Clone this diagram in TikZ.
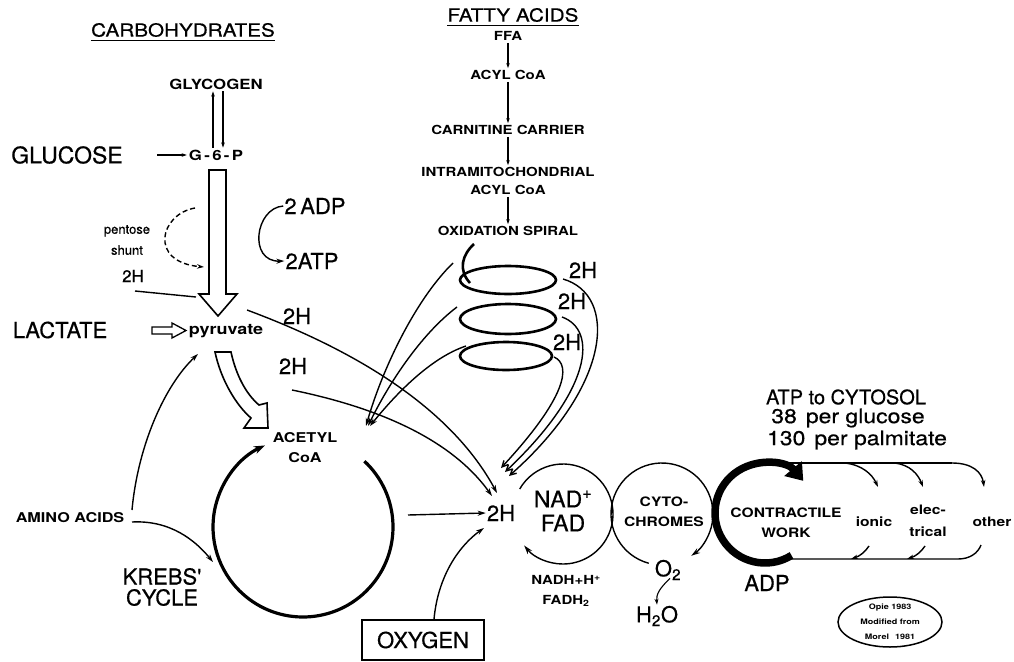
\documentclass[tikz,border=0pt]{standalone}
\usepackage{fontspec}
\setmainfont{TeX Gyre Heros}
\newfontfamily\hvw[FakeStretch=1.2]{TeX Gyre Heros}
\newfontfamily\hvm[FakeBold=0.5]{TeX Gyre Heros}
\newfontfamily\hvmw[FakeBold=0.5,FakeStretch=1.15]{TeX Gyre Heros}
\usetikzlibrary{arrows.meta}
\begin{document}
\begin{tikzpicture}[x=1pt,y=1pt,
  big/.style={font=\hvm\fontsize{22}{21}\selectfont, inner sep=1pt, align=center},
  bigw/.style={font=\hvmw\fontsize{20}{22}\selectfont, inner sep=0pt},
  hd/.style={font=\hvmw\fontsize{18}{19}\selectfont, inner sep=0pt},
  sm/.style={font=\hvw\bfseries\fontsize{14}{18}\selectfont, inner sep=2pt, align=center},
  tiny/.style={font=\hvw\bfseries\fontsize{7.5}{15}\selectfont, inner sep=0pt, align=center},
  ln/.style={line width=1.4pt},
  arr/.style={ln, -{Stealth[length=8pt,width=5pt]}},
  sarr/.style={line width=1.1pt, -{Stealth[length=5pt,width=3.5pt]}},
  oarr/.style={ln, -{Straight Barb[length=6pt,width=6pt]}},
  hollow/.style={line width=1.6pt, fill=white, line join=miter}
]
\useasboundingbox (0,0) rectangle (1014,-661);

% ---------- headings ----------
\node[hd] (cb) at (183,-30) {CARBOHYDRATES};
\draw[line width=1pt] ([yshift=-4pt]cb.base west) -- ([yshift=-4pt]cb.base east);
\node[hd] (fa) at (513,-15) {FATTY ACIDS};
\draw[line width=1pt] ([yshift=-4pt]fa.base west) -- ([yshift=-4pt]fa.base east);

% ---------- fatty acid column ----------
\node[sm, font=\hvw\bfseries\fontsize{12.5}{18}\selectfont] (ffa) at (508,-36) {FFA};
\node[sm, font=\hvw\bfseries\fontsize{12.5}{18}\selectfont] (ac1) at (508,-75) {ACYL CoA};
\node[sm, font=\hvw\bfseries\fontsize{12.5}{18}\selectfont] (carn) at (508,-130) {CARNITINE CARRIER};
\node[sm, font=\hvw\bfseries\fontsize{12.5}{18}\selectfont] (intra) at (508,-181) {INTRAMITOCHONDRIAL\\ACYL CoA};
\node[sm, font=\hvw\bfseries\fontsize{12.5}{18}\selectfont] (ox) at (508,-231) {OXIDATION SPIRAL};
\draw[sarr] (ffa) -- (ac1);
\draw[sarr] (ac1) -- (carn);
\draw[sarr] (carn) -- (intra);
\draw[sarr] (intra) -- (ox);

% ---------- carbohydrate column ----------
\node[sm] (gly) at (216,-84) {GLYCOGEN};
\node[sm] (g6p) at (216,-155) {G\,-\,6\,-\,P};
\node[big, font=\hvm\fontsize{23}{21}\selectfont] (glu) at (67,-155) {GLUCOSE};
\coordinate (gluA) at (157,-155);
\draw[sarr] (gluA) -- (g6p.west);
\draw[sarr] ([xshift=-3pt]g6p.north) -- ([xshift=-3pt]gly.south);
\draw[sarr] ([xshift=7pt]gly.south) -- ([xshift=7pt]g6p.north);

% big hollow arrow G-6-P -> pyruvate
\draw[hollow] (209,-170) -- (226,-170) -- (226,-294) -- (237,-294) -- (218,-316) -- (199,-294) -- (209,-294) -- cycle;

% pentose shunt
\node[font=\hvm\fontsize{13}{21}\selectfont, inner sep=0pt, align=center] (pent) at (127,-240) {pentose\\shunt};
\coordinate (psA) at (195,-208);
\coordinate (psB) at (204,-267);
\draw[ln, dashed, dash pattern=on 5pt off 3pt, -{Stealth[length=7pt,width=4.5pt]}] (psA) .. controls (160,-214) and (148,-262) .. (psB);

% 2H into glycolysis
\node[big, font=\hvm\fontsize{17}{17}\selectfont] (h2a) at (133,-276) {2H};
\coordinate (h2aE) at (196,-297);
\draw[ln] (135,-291) -- (h2aE);

% 2 ADP / 2 ATP
\node[big] (adp2) at (315,-206) {2\,ADP};
\node[big] (atp2) at (312,-261) {2ATP};
\draw[arr] (adp2.west) .. controls (255,-208) and (248,-262) .. (atp2.west);

% lactate / pyruvate
\node[big] (lac) at (60,-330) {LACTATE};
\node[sm, font=\hvw\bfseries\fontsize{15}{16}\selectfont] (pyr) at (226,-331) {pyruvate};
\draw[hollow, line width=1.3pt] (152,-327) -- (172,-327) -- (172,-323) -- (186,-330.5) -- (172,-338) -- (172,-334) -- (152,-334) -- cycle;

% 2H labels near pyruvate
\node[big] (h2b) at (297,-316) {2H};
\node[big] (h2c) at (293,-366) {2H};

% hollow curved arrow pyruvate -> acetyl CoA
\draw[hollow] (215,-352) -- (231,-352) .. controls (236,-375) and (246,-394) .. (259,-405) -- (267,-403) -- (268,-428) -- (244,-428) -- (251,-418) .. controls (236,-405) and (221,-380) .. cycle;

% acetyl CoA & Krebs
\node[sm, font=\hvw\bfseries\fontsize{13.5}{20}\selectfont] (acoa) at (305,-448) {ACETYL\\CoA};
\coordinate (kc) at (303,-527);
\draw[line width=3.2pt, -{Stealth[length=11pt,width=8pt]}] (kc) ++(47:90) arc[start angle=47, end angle=-245, radius=90];
\node[big] (krebs) at (162,-587) {KREBS'\\CYCLE};

% amino acids
\node[sm, font=\hvw\bfseries\fontsize{13.5}{14}\selectfont] (amino) at (70,-518) {AMINO ACIDS};
\draw[arr] (132,-510) .. controls (138,-445) and (165,-385) .. (198,-354);
\draw[arr] (132,-522) .. controls (170,-520) and (195,-540) .. (213,-562);

% central 2H
\node[big] (hc) at (501,-513) {2H};
\draw[arr] (408,-515) -- (hc.west);

% oxygen
\node[big, draw, line width=1.5pt, minimum width=122pt, minimum height=40pt] (oxy) at (423,-640) {OXYGEN};
\draw[arr] (oxy.north) ++(11,0) .. controls (438,-575) and (460,-545) .. (484,-528);

% long 2H lines into central 2H
\draw[arr] (247,-310) .. controls (360,-352) and (452,-410) .. (497,-493);
\draw[arr] (292,-390) .. controls (380,-408) and (452,-440) .. (492,-496);

% ---------- spiral ----------
\draw[line width=2.6pt] (474,-244) .. controls (462,-255) and (458,-270) .. (470,-283);
\draw[line width=2.6pt] (508,-280) ellipse [x radius=48, y radius=14];
\draw[line width=2.6pt] (508,-319) ellipse [x radius=48, y radius=15];
\draw[line width=2.6pt] (506,-356) ellipse [x radius=46, y radius=14];

% spiral -> acetyl CoA
\draw[arr] (453,-263) .. controls (415,-300) and (382,-370) .. (366,-426);
\draw[arr] (457,-307) .. controls (420,-335) and (388,-385) .. (368,-426);
\draw[arr] (466,-346) .. controls (430,-358) and (395,-395) .. (370,-426);

% spiral 2H -> central 2H
\node[big] (s1) at (583,-270) {2H};
\node[big] (s2) at (572,-301) {2H};
\node[big] (s3) at (567,-342) {2H};
\draw[oarr] (563,-279) .. controls (618,-295) and (612,-385) .. (509,-476);
\draw[oarr] (562,-317) .. controls (598,-330) and (592,-390) .. (505,-472);
\draw[oarr] (554,-357) .. controls (572,-365) and (566,-398) .. (501,-468);

% ---------- electron transport ----------
\coordinate (nc) at (563,-514);
\draw[ln, -{Stealth[length=9pt,width=5.5pt]}] (nc) ++(150:50) arc[start angle=150, end angle=-141, radius=50];
\node[big, font=\hvm\fontsize{23}{24}\selectfont] (nad) at (563,-511) {NAD\textsuperscript{+}\\FAD};
\node[sm, font=\hvw\bfseries\fontsize{12.5}{20}\selectfont] (nadh) at (566,-591) {NADH+H\textsuperscript{+}\\FADH\textsubscript{2}};

\coordinate (cc) at (662,-514);
\draw[ln, -{Stealth[length=9pt,width=5.5pt]}] (cc) ++(-105:51) arc[start angle=-105, end angle=-415, radius=51];
\node[sm, font=\hvw\bfseries\fontsize{13}{20}\selectfont] (cyto) at (664,-512) {CYTO-\\CHROMES};
\node[big] (o2) at (668,-570) {O\textsubscript{2}};
\node[big] (h2o) at (657,-616) {H\textsubscript{2}O};
\draw[line width=1.1pt, -{Stealth[length=6pt,width=4pt]}] (o2.south) ++(2,3) .. controls (660,-588) and (656,-594) .. (h2o.north);

% ---------- ATP to cytosol ----------
\node[big, font=\hvm\fontsize{20}{21}\selectfont] (atpc) at (846,-397) {ATP to CYTOSOL};
\node[bigw] (g38) at (848,-418) {38\hspace{9pt}per glucose};
\node[bigw] (p130) at (857,-440) {130\hspace{9pt}per palmitate};

\coordinate (wc) at (765,-513);
\draw[line width=7.5pt, -{Triangle[length=16pt,width=22pt]}] (wc) ++(-58:50) arc[start angle=-58, end angle=-320, radius=50];
\node[sm, font=\hvw\bfseries\fontsize{13}{20}\selectfont] (contr) at (786,-523) {CONTRACTILE\\WORK};
\node[big] (adp) at (767,-583) {ADP};

\node[sm, font=\hvw\bfseries\fontsize{13}{18}\selectfont] (ionic) at (874,-522) {ionic};
\node[sm, font=\hvw\bfseries\fontsize{13}{22}\selectfont] (elec) at (928,-521) {elec-\\trical};
\node[sm, font=\hvw\bfseries\fontsize{13}{18}\selectfont] (other) at (992,-522) {other};

\coordinate (tL) at (778,-463);
\coordinate (tR) at (952,-463);
\draw[ln] (tL) -- (tR);
\draw[arr, -{Stealth[length=7pt,width=4.5pt]}] (tR) .. controls (972,-463) and (982,-472) .. (984,-487);
\draw[arr, -{Stealth[length=7pt,width=4.5pt]}] (845,-463) .. controls (862,-465) and (872,-474) .. (878,-487);
\draw[arr, -{Stealth[length=7pt,width=4.5pt]}] (895,-463) .. controls (910,-465) and (918,-474) .. (923,-487);

\coordinate (bL) at (790,-559);
\coordinate (bR) at (958,-559);
\draw[ln] (bL) -- (bR) .. controls (970,-559) and (978,-553) .. (981,-545);
\draw[arr, -{Stealth[length=7pt,width=4.5pt]}] (869,-546) .. controls (865,-552) and (860,-556) .. (851,-559);
\draw[arr, -{Stealth[length=7pt,width=4.5pt]}] (925,-546) .. controls (921,-552) and (916,-556) .. (907,-559);

% credit ellipse
\draw[line width=1.5pt] (890,-622) ellipse [x radius=52, y radius=25];
\node[tiny] (cred) at (890,-622) {Opie 1983\\Modified from\\Morel\hspace{6pt}1981};

\end{tikzpicture}
\end{document}
